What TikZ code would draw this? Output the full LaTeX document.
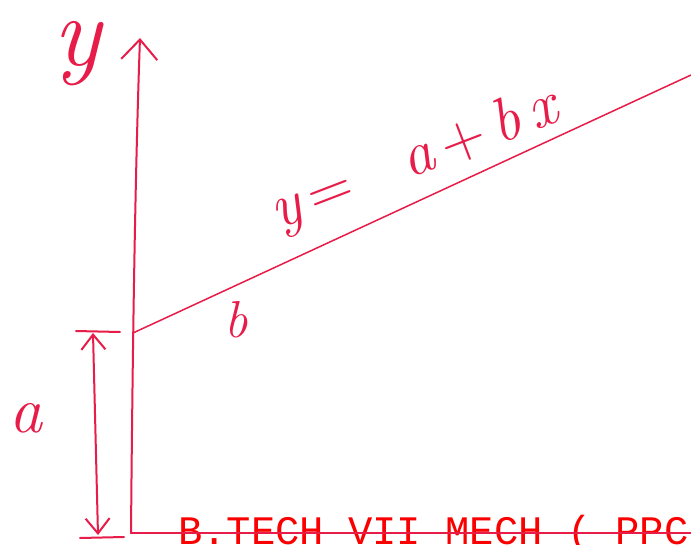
\documentclass[tikz,border=0pt]{standalone}
\usepackage{fontspec}
\newfontfamily\monofont{Liberation Mono}
\usetikzlibrary{arrows.meta}
\definecolor{pen}{RGB}{232,28,72}
\definecolor{stamp}{RGB}{250,0,0}
\tikzset{
  penline/.style={draw=pen, line width=2pt, line cap=round, line join=round},
  hand/.style={text=pen, inner sep=0pt},
}
\begin{document}
\begin{tikzpicture}[x=1pt,y=-1pt]
\useasboundingbox[fill=white] (0,0) rectangle (691,544);
% key points
\coordinate (O) at (131,533);
\coordinate (Ytop) at (140,38);
\coordinate (Xend) at (691,533);
\coordinate (B) at (133,333);
\coordinate (Lend) at (691,75);
\coordinate (Dtop) at (93,333);
\coordinate (Dbot) at (98,535);
\coordinate (TtL) at (76,331);
\coordinate (TtR) at (120,332);
\coordinate (TbL) at (80,538);
\coordinate (TbR) at (124,537);
% bottom stamp text
\node[text=stamp, font=\monofont\fontsize{40.5}{40.5}\selectfont, anchor=base west, inner sep=0pt] (stampt) at (178,544) {B.TECH VII MECH ( PPC};
% axes
\draw[penline, -{Straight Barb[length=20pt,width=36pt,line width=2pt]}] (O) .. controls (133,300) and (136,150) .. (Ytop);
\draw[penline] (O) -- (Xend);
% regression line
\draw[penline, line width=1.5pt] (B) -- (Lend);
% dimension a
\draw[penline, {Straight Barb[length=15pt,width=24pt,line width=2pt]}-{Straight Barb[length=15pt,width=24pt,line width=2pt]}] (Dtop) -- (Dbot);
\draw[penline] (TtL) -- (TtR);
\draw[penline] (TbL) -- (TbR);
% labels
\node[hand, font=\itshape\fontsize{100}{100}\selectfont] (ylab) at (77,54) {y};
\node[hand, font=\itshape\fontsize{66}{66}\selectfont] (alab) at (26,418) {a};
\node[hand, font=\itshape\fontsize{52}{52}\selectfont] (blab) at (236,320) {b};
\node[hand, font=\itshape\fontsize{62}{62}\selectfont, rotate=21, anchor=base] (eq) at (420,175) {y\,{\upshape=}\;\; a\,{\upshape+}\,b\,x};
\end{tikzpicture}
\end{document}
